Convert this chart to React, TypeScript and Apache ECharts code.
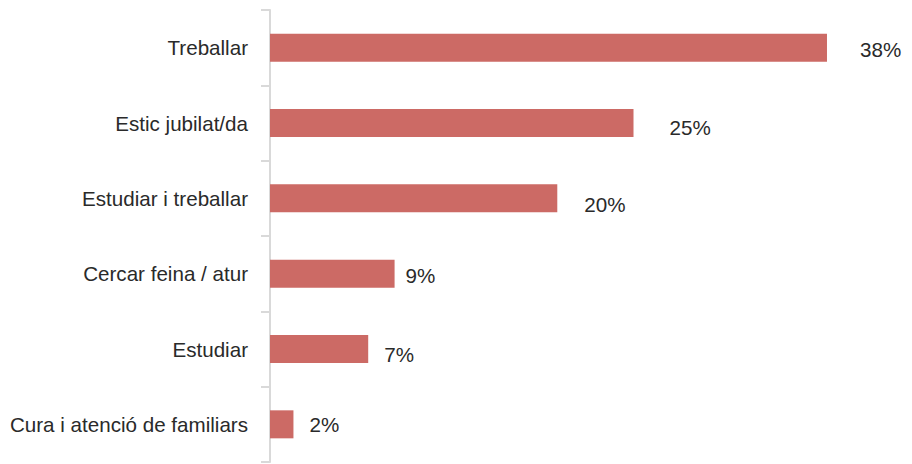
import React, { useEffect, useRef } from "react";
import * as echarts from "echarts";

const categories = [
  "Treballar",
  "Estic jubilat/da",
  "Estudiar i treballar",
  "Cercar feina / atur",
  "Estudiar",
  "Cura i atenció de familiars",
];
const values = [38, 24.8, 19.6, 8.5, 6.7, 1.6];
const labelTexts = ["38%", "25%", "20%", "9%", "7%", "2%"];

// label styling (distance from bar end, vertical nudge)
const labelDistances = [33, 36, 27, 11, 16, 16];
const labelNudges = [2, 4, 6, 2, 5, 0];

const FONT = "Liberation Sans, Arial, sans-serif";

export default function App() {
  const ref = useRef<HTMLDivElement>(null);
  useEffect(() => {
    if (!ref.current) return;
    const chart = echarts.init(ref.current, undefined, { renderer: "svg" });
    chart.setOption({
      animation: false,
      grid: { left: 270, right: 55.7, top: 10, bottom: 2, containLabel: false },
      xAxis: {
        type: "value",
        min: 0,
        max: 40,
        show: false,
      },
      yAxis: {
        type: "category",
        inverse: true,
        data: categories,
        offset: 1,
        axisLine: { show: true, lineStyle: { color: "#d9d9d9", width: 2 } },
        axisTick: { show: true, length: 9, lineStyle: { color: "#d9d9d9", width: 2 } },
        axisLabel: {
          margin: 21,
          fontSize: 20.6,
          color: "#2a2a2a",
          fontFamily: FONT,
        },
        splitLine: { show: false },
      },
      series: [
        {
          type: "bar",
          barWidth: 28,
          itemStyle: { color: "#cc6a65" },
          data: values.map((v, i) => ({
            value: v,
            label: {
              show: true,
              position: "right",
              distance: labelDistances[i],
              offset: [0, labelNudges[i]],
              formatter: () => labelTexts[i],
              fontSize: 20.6,
              color: "#2a2a2a",
              fontFamily: FONT,
            },
          })),
        },
      ],
    });
    return () => chart.dispose();
  }, []);
  return (
    <div
      ref={ref}
      style={{ position: "absolute", left: 0, top: 0, width: 912, height: 464 }}
    />
  );
}
